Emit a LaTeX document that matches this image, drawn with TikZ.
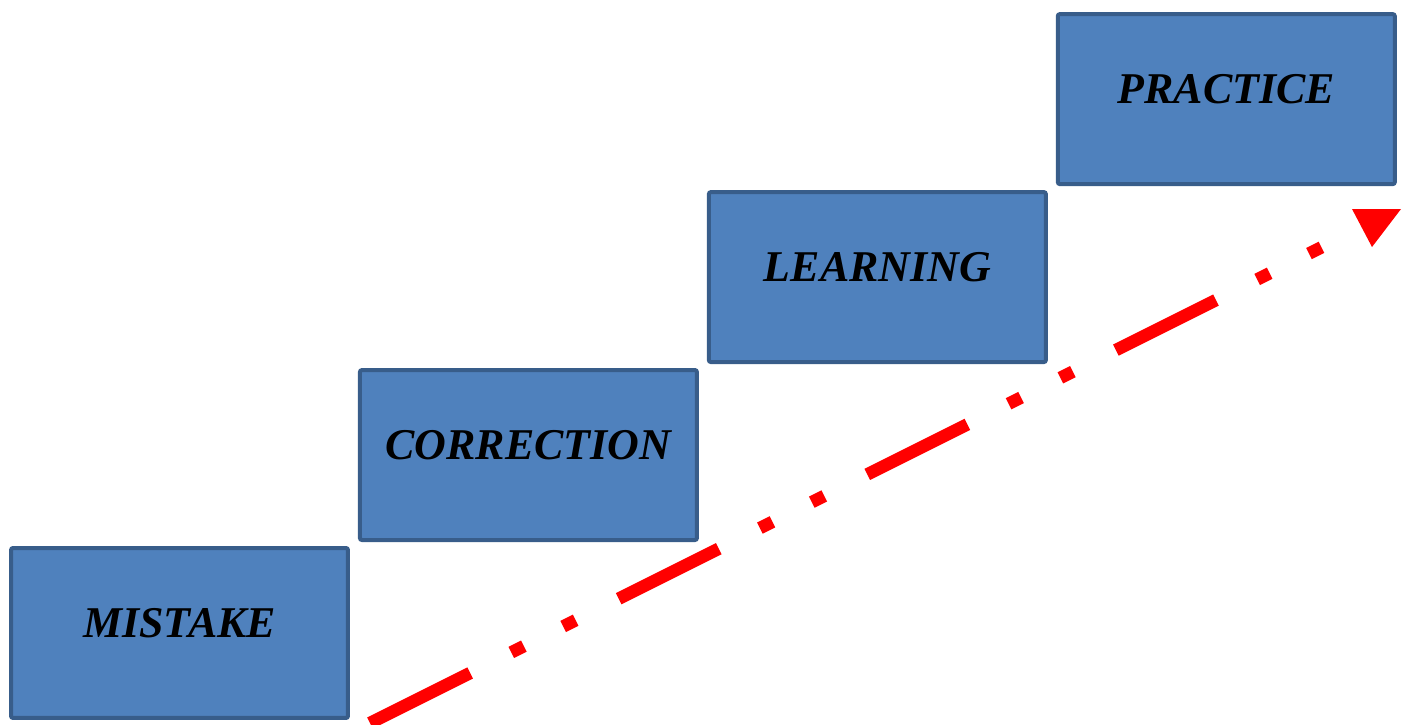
\documentclass[tikz,border=0pt]{standalone}
\usepackage{fontspec}
\setmainfont{Liberation Serif}
\usetikzlibrary{positioning}
\definecolor{boxfill}{RGB}{79,129,189}
\definecolor{boxedge}{RGB}{56,93,138}
\tikzset{
  stepbox/.style ={draw=boxedge, fill=boxfill, line width=0.08cm, rounded corners=0.04cm,
                   minimum width=6.74cm, minimum height=3.4cm, inner sep=0pt,
                   text height=0.58cm, text depth=0.4cm,
                   font=\fontsize{25}{30}\selectfont\bfseries\itshape},
  trail/.style   ={red, line width=0.25cm,
                   dash pattern=on 2.24cm off 0.92cm on 0.28cm off 0.88cm on 0.28cm off 0.96cm},
}

\begin{document}
\begin{tikzpicture}[x=0.02cm, y=-0.02cm]
  \useasboundingbox (0,0) rectangle (1410,724);

  % ---------- the four steps ----------
  \node[stepbox] (mistake) at (179.5,633) {MISTAKE};
  \node[stepbox, above right=0.08cm and 0.16cm of mistake] (correction) {CORRECTION};
  \node[stepbox, above right=0.08cm and 0.16cm of correction] (learning) {LEARNING};
  \node[stepbox, above right=0.08cm and 0.16cm of learning] (practice) {PRACTICE};

  % ---------- rising dash-dot-dot trail ----------
  \coordinate (tail) at (370,723);
  \coordinate (head) at (1358,229);
  \draw[trail] (tail) -- (head);
  \fill[red] (head) ++(-6,-20) -- ++(49,0) -- ++(-29,38) -- cycle;
\end{tikzpicture}
\end{document}
